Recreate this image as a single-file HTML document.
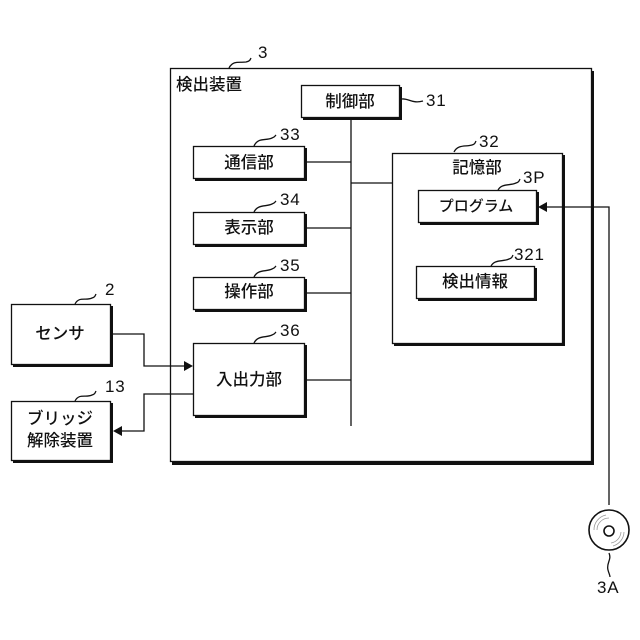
<!DOCTYPE html>
<html><head><meta charset="utf-8"><style>
html,body{margin:0;padding:0;background:#fff;width:640px;height:640px;overflow:hidden}
svg{display:block}
text{font-family:"Liberation Sans","Noto Sans CJK JP",sans-serif;fill:#111}
.j{font-size:16.5px;text-anchor:middle;font-weight:500}
.n{font-size:17px;letter-spacing:.8px}
.b{fill:#fff;stroke:#111;stroke-width:1.3}
.s{fill:#111}
.l{fill:none;stroke:#111;stroke-width:1.3}
</style></head><body>
<svg width="640" height="640" viewBox="0 0 640 640" xmlns="http://www.w3.org/2000/svg">
<!-- outer -->
<rect class="s" x="172" y="71" width="422" height="394"/>
<rect class="b" x="170.5" y="68.5" width="421" height="393"/>
<text x="176" y="90" font-size="16.5" font-weight="500">検出装置</text>
<!-- bus -->
<path class="l" d="M351 118V426M305 162H351M305 228H351M305 293H351M305 380H351M351 183H392"/>
<!-- 制御部 -->
<rect class="s" x="303" y="87" width="99" height="33"/>
<rect class="b" x="301.5" y="85.5" width="98" height="32"/>
<text class="j" x="350" y="107">制御部</text>
<!-- 33 -->
<rect class="s" x="195" y="148" width="112" height="33"/>
<rect class="b" x="193.5" y="146.5" width="111" height="32"/>
<text class="j" x="249" y="168">通信部</text>
<!-- 34 -->
<rect class="s" x="195" y="214" width="112" height="33"/>
<rect class="b" x="193.5" y="212.5" width="111" height="32"/>
<text class="j" x="249" y="233">表示部</text>
<!-- 35 -->
<rect class="s" x="195" y="279" width="112" height="33"/>
<rect class="b" x="193.5" y="277.5" width="111" height="32"/>
<text class="j" x="249" y="297">操作部</text>
<!-- 36 -->
<rect class="s" x="195" y="345" width="112" height="73"/>
<rect class="b" x="193.5" y="343.5" width="111" height="72"/>
<text class="j" x="249" y="385">入出力部</text>
<!-- 32 -->
<rect class="s" x="394" y="155" width="171" height="191"/>
<rect class="b" x="392.5" y="153.5" width="170" height="190"/>
<text class="j" x="477" y="173">記憶部</text>
<!-- 3P -->
<rect class="s" x="420" y="192" width="119" height="33"/>
<rect class="b" x="418.5" y="190.5" width="118" height="32"/>
<text x="476" y="211" font-size="15" font-weight="500" text-anchor="middle">プログラム</text>
<!-- 321 -->
<rect class="s" x="418" y="268" width="119" height="33"/>
<rect class="b" x="416.5" y="266.5" width="118" height="32"/>
<text class="j" x="475" y="287">検出情報</text>
<!-- sensor -->
<rect class="s" x="13" y="306" width="100" height="61"/>
<rect class="b" x="11.5" y="304.5" width="99" height="60"/>
<text class="j" x="60" y="339">センサ</text>
<!-- bridge -->
<rect class="s" x="13" y="403" width="100" height="60"/>
<rect class="b" x="11.5" y="401.5" width="99" height="59"/>
<text class="j" x="60" y="424">ブリッジ</text>
<text class="j" x="60" y="446">解除装置</text>
<!-- crossing wires -->
<path class="l" d="M113 334H144V366H186M193 394H144V431H120M546 207H609V505"/>
<path class="s" d="M193 366L184 361V371ZM113 431L122 426V436ZM538 207L547 202V212Z"/>
<!-- leaders -->
<path class="l" d="M229 68C233 60 240 63 246 62C250 61 250 60 251 58M254 146C258 137 266 141 272 138C275 137 275 136 276 135M254 212C258 204 266 207 272 204C275 203 275 202 276 201M254 277C258 269 266 272 272 269C275 268 275 267 276 266M254 343C258 335 266 338 272 335C275 334 275 333 276 332M402 99C408 98 412 104 423 101M454 152C458 144 466 147 472 145C475 144 475 143 476 141M498 190C502 183 510 186 516 183C519 182 519 181 520 179M491 266C495 259 503 262 509 259C512 258 512 257 513 255M75 304C79 296 86 301 92 298C95 297 95 296 96 294M75 401C79 393 86 398 92 395C95 394 95 393 96 391M609 553C612 560 606 563 608 570C609 574 610 575 610 577"/>
<!-- numbers -->
<text class="n" x="258" y="58">3</text>
<text class="n" x="280" y="140">33</text>
<text class="n" x="280" y="205">34</text>
<text class="n" x="280" y="271">35</text>
<text class="n" x="280" y="336">36</text>
<text class="n" x="426" y="106">31</text>
<text class="n" x="479" y="147">32</text>
<text class="n" x="523" y="183">3P</text>
<text class="n" x="514" y="260">321</text>
<text class="n" x="105" y="295">2</text>
<text class="n" x="105" y="392">13</text>
<text class="n" x="597" y="593">3A</text>
<!-- disc -->
<circle cx="609" cy="530" r="20" fill="#fff" stroke="#111" stroke-width="1.6"/>
<circle cx="609" cy="531" r="5" fill="#fff" stroke="#111" stroke-width="1.6"/>
<path d="M597 530A12 12 0 0 1 609 518M594 530A15 15 0 0 1 606 515M621 532A12 12 0 0 1 611 543M624 532A15 15 0 0 1 613 546" fill="none" stroke="#999" stroke-width=".8"/>
</svg>
</body></html>
